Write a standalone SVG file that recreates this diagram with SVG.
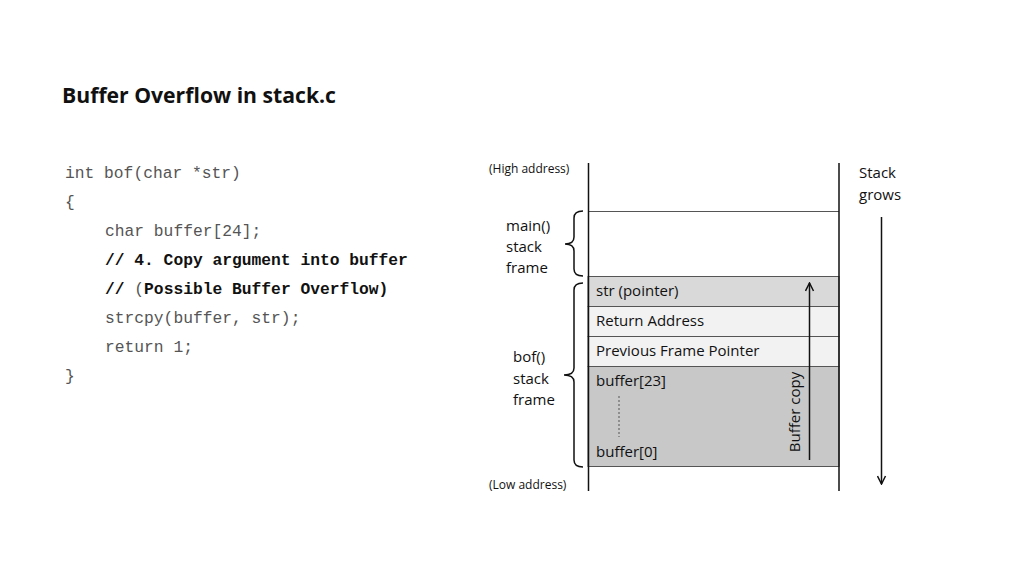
<svg xmlns="http://www.w3.org/2000/svg" width="1024" height="576" viewBox="0 0 1024 576">
<style>
.t{font-family:"Open Sans","Liberation Sans",sans-serif;fill:#111}
.lbl{font-size:15px}
.sm{font-size:12px}
.code{font-family:"Liberation Mono","Courier New",monospace;font-size:16.3px;fill:#555}
.cb{font-weight:bold;fill:#111}
.ln{stroke:#111;stroke-width:1.5;fill:none}
.cell{stroke:#555;stroke-width:1}
</style>
<defs>
<marker id="ah" viewBox="0 0 10 10" refX="9" refY="5" markerWidth="10" markerHeight="10" markerUnits="userSpaceOnUse" orient="auto">
<path d="M1,1 L9,5 L1,9" fill="none" stroke="#111" stroke-width="1.5"/>
</marker>
</defs>
<rect width="1024" height="576" fill="#fff"/>
<text id="title" class="t" x="62" y="103" font-size="21" font-weight="bold" textLength="274" lengthAdjust="spacingAndGlyphs">Buffer Overflow in stack.c</text>
<g id="code">
<text class="code" x="65" y="178">int bof(char *str)</text>
<text class="code" x="65" y="207">{</text>
<text class="code" x="105" y="236">char buffer[24];</text>
<text class="code cb" x="105" y="265">// 4. Copy argument into buffer</text>
<text class="code cb" x="105" y="294">// <tspan font-weight="normal" fill="#555">(</tspan>Possible Buffer Overflow)</text>
<text class="code" x="105" y="323">strcpy(buffer, str);</text>
<text class="code" x="105" y="352">return 1;</text>
<text class="code" x="65" y="381">}</text>
</g>
<g id="stack">
<rect id="cell-str" class="cell" x="588" y="276.5" width="251" height="30" fill="#d9d9d9"/>
<rect id="cell-ret" class="cell" x="588" y="306.5" width="251" height="30" fill="#f2f2f2"/>
<rect id="cell-pfp" class="cell" x="588" y="336.5" width="251" height="30" fill="#f2f2f2"/>
<rect id="cell-buf" class="cell" x="588" y="366.5" width="251" height="100" fill="#c8c8c8"/>
<line class="cell" x1="588" y1="211.5" x2="839" y2="211.5"/>
<line class="ln" x1="588.5" y1="163" x2="588.5" y2="491"/>
<line class="ln" x1="839" y1="163" x2="839" y2="491"/>
<text class="t lbl" x="596" y="296">str (pointer)</text>
<text class="t lbl" x="596" y="326">Return Address</text>
<text class="t lbl" x="596" y="356">Previous Frame Pointer</text>
<text class="t lbl" x="596" y="386">buffer[23]</text>
<text class="t lbl" x="596" y="457">buffer[0]</text>
<line x1="619" y1="396" x2="619" y2="437" stroke="#555" stroke-width="1" stroke-dasharray="2,2"/>
<text class="t lbl" transform="translate(800,412) rotate(-90)" text-anchor="middle">Buffer copy</text>
</g>
<g id="labels">
<text class="t sm" x="489" y="173">(High address)</text>
<text class="t sm" x="489" y="489">(Low address)</text>
<text class="t lbl" x="506" y="231">main()</text>
<text class="t lbl" x="506" y="252">stack</text>
<text class="t lbl" x="506" y="273">frame</text>
<text class="t lbl" x="513" y="362">bof()</text>
<text class="t lbl" x="513" y="384">stack</text>
<text class="t lbl" x="513" y="405">frame</text>
<text class="t lbl" x="859" y="178">Stack</text>
<text class="t lbl" x="859" y="200">grows</text>
</g>
<g id="braces">
<path class="ln" d="M583,211 Q574,211 574,218 L574,237 Q574,244 565,244 Q574,244 574,251 L574,269 Q574,276 583,276"/>
<path class="ln" d="M583,283 Q574,283 574,290 L574,368 Q574,375 564,375 Q574,375 574,382 L574,460 Q574,467 583,467"/>
</g>
<g id="connectors">
<line class="ln" x1="809.5" y1="460" x2="809.5" y2="283" marker-end="url(#ah)"/>
<line class="ln" x1="881.5" y1="217" x2="881.5" y2="484" marker-end="url(#ah)"/>
</g>
</svg>
